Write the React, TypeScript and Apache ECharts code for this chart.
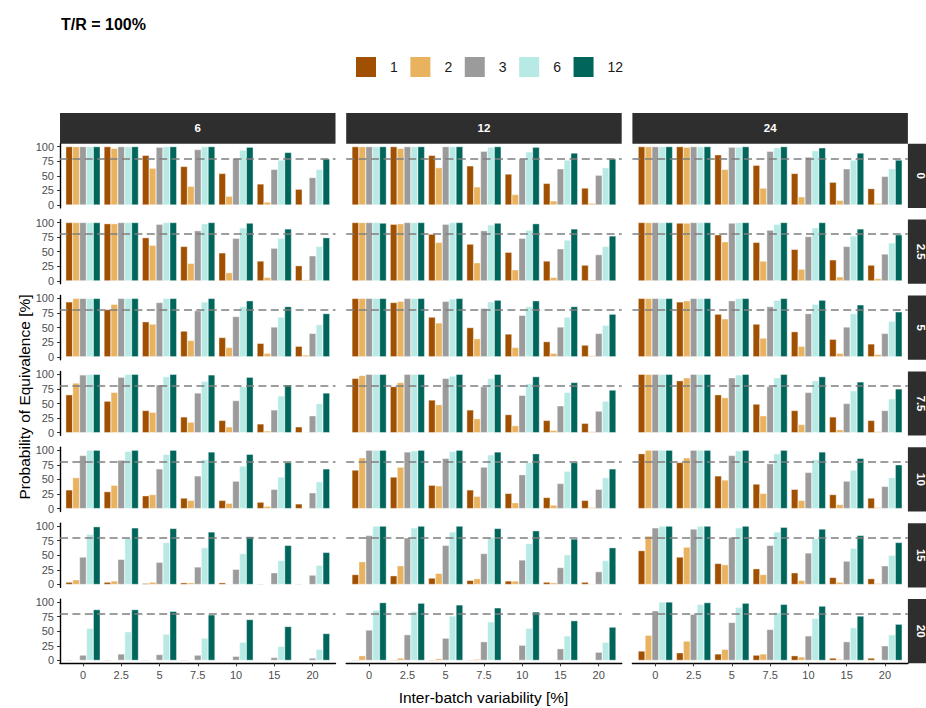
import React, { useEffect, useRef } from "react";
import * as echarts from "echarts";

// Axis / facet labels
const xLabels = ["0", "2.5", "5", "7.5", "10", "15", "20"];
const colLabels = ["6", "12", "24"];
const rowLabels = ["0", "2.5", "5", "7.5", "10", "15", "20"];
const seriesNames = ["1", "2", "3", "6", "12"];
const seriesColors = ["#A05000", "#E8B25F", "#9B9B9B", "#B7EAE4", "#00665C"];
const yTicks = [0, 25, 50, 75, 100];
const threshold = 80;

// Probability of equivalence [%]; each panel holds one row per series (1, 2, 3, 6, 12),
// with one value per inter-batch variability level.
const n6_w0 = [
  [100, 100, 85, 66, 54, 36, 27],
  [100, 97, 63, 32, 15, 5, 1],
  [100, 100, 99, 95, 80, 61, 47],
  [100, 100, 100, 100, 94, 77, 61],
  [100, 100, 100, 100, 99, 90, 79],
];
const n6_w2_5 = [
  [100, 98, 74, 59, 48, 34, 26],
  [100, 98, 61, 30, 14, 6, 2],
  [100, 100, 97, 86, 73, 56, 43],
  [100, 100, 100, 98, 91, 73, 59],
  [100, 100, 100, 100, 99, 89, 74],
];
const n6_w5 = [
  [94, 81, 60, 44, 33, 23, 18],
  [100, 90, 56, 28, 16, 6, 3],
  [100, 100, 93, 79, 69, 51, 40],
  [100, 100, 100, 94, 86, 68, 55],
  [100, 100, 100, 100, 96, 86, 74],
];
const n6_w7_5 = [
  [65, 54, 38, 27, 21, 15, 10],
  [85, 69, 35, 18, 10, 3, 1],
  [99, 95, 82, 68, 55, 39, 29],
  [100, 100, 96, 88, 79, 63, 50],
  [100, 100, 100, 99, 95, 82, 68],
];
const n6_w10 = [
  [32, 29, 22, 18, 14, 11, 8],
  [53, 40, 24, 14, 9, 4, 1],
  [91, 83, 68, 56, 47, 33, 27],
  [100, 98, 93, 84, 73, 54, 46],
  [100, 100, 100, 97, 93, 79, 68],
];
const n6_w15 = [
  [4, 4, 2, 3, 3, 1, 1],
  [8, 6, 4, 3, 1, 0, 0],
  [47, 43, 38, 30, 26, 20, 16],
  [86, 79, 72, 63, 53, 41, 33],
  [99, 97, 96, 90, 82, 67, 55],
];
const n6_w20 = [
  [1, 1, 1, 1, 0, 0, 0],
  [0, 0, 0, 0, 0, 0, 0],
  [9, 11, 10, 9, 7, 5, 4],
  [55, 49, 45, 38, 31, 24, 19],
  [87, 87, 84, 78, 70, 58, 46],
];

const n12_w0 = [
  [100, 100, 85, 67, 53, 37, 29],
  [100, 97, 64, 31, 18, 7, 3],
  [100, 100, 100, 92, 79, 62, 51],
  [100, 100, 100, 99, 91, 77, 64],
  [100, 100, 100, 100, 99, 89, 79],
];
const n12_w2_5 = [
  [100, 97, 80, 63, 49, 34, 27],
  [100, 98, 66, 31, 19, 6, 2],
  [100, 100, 97, 86, 73, 55, 45],
  [100, 100, 100, 96, 87, 70, 59],
  [99, 100, 100, 99, 98, 89, 77],
];
const n12_w5 = [
  [100, 93, 68, 50, 39, 26, 20],
  [100, 95, 58, 31, 16, 6, 2],
  [100, 100, 95, 83, 71, 51, 40],
  [100, 100, 99, 94, 86, 68, 54],
  [100, 100, 100, 97, 96, 86, 73],
];
const n12_w7_5 = [
  [93, 79, 56, 39, 31, 21, 16],
  [98, 86, 48, 24, 12, 4, 2],
  [100, 100, 93, 79, 64, 46, 37],
  [100, 100, 97, 93, 84, 69, 54],
  [100, 100, 100, 100, 96, 86, 73],
];
const n12_w10 = [
  [66, 54, 40, 32, 26, 19, 14],
  [87, 71, 39, 21, 10, 6, 2],
  [100, 97, 86, 71, 58, 43, 33],
  [100, 99, 98, 92, 79, 64, 53],
  [100, 100, 100, 97, 94, 79, 68],
];
const n12_w15 = [
  [17, 15, 11, 7, 6, 4, 4],
  [39, 32, 19, 10, 6, 3, 1],
  [84, 80, 67, 53, 42, 29, 22],
  [100, 97, 90, 81, 70, 51, 41],
  [100, 100, 100, 96, 92, 78, 63],
];
const n12_w20 = [
  [1, 1, 1, 1, 0, 0, 0],
  [8, 4, 3, 2, 1, 1, 0],
  [52, 44, 38, 32, 26, 20, 14],
  [86, 84, 76, 66, 55, 42, 31],
  [99, 98, 95, 90, 83, 68, 57],
];

const n24_w0 = [
  [100, 100, 86, 68, 54, 39, 28],
  [100, 99, 61, 29, 14, 8, 3],
  [100, 100, 99, 92, 82, 62, 49],
  [100, 100, 99, 98, 93, 77, 62],
  [100, 100, 100, 100, 98, 89, 77],
];
const n24_w2_5 = [
  [100, 99, 79, 66, 54, 36, 27],
  [100, 99, 67, 34, 20, 7, 4],
  [100, 100, 99, 87, 76, 59, 46],
  [100, 100, 100, 97, 91, 77, 65],
  [100, 100, 100, 100, 100, 89, 79],
];
const n24_w5 = [
  [100, 94, 73, 56, 43, 30, 22],
  [100, 96, 65, 32, 18, 6, 4],
  [100, 100, 96, 86, 74, 51, 40],
  [100, 100, 100, 97, 90, 74, 61],
  [100, 100, 100, 100, 97, 89, 77],
];
const n24_w7_5 = [
  [100, 89, 65, 49, 38, 27, 21],
  [100, 94, 60, 29, 14, 5, 2],
  [100, 100, 94, 79, 69, 50, 38],
  [100, 100, 99, 94, 89, 72, 58],
  [100, 100, 100, 100, 96, 87, 75],
];
const n24_w10 = [
  [94, 79, 56, 42, 33, 24, 18],
  [100, 87, 49, 26, 14, 7, 2],
  [100, 100, 91, 77, 62, 47, 38],
  [100, 100, 99, 94, 84, 66, 53],
  [100, 100, 100, 100, 97, 86, 75],
];
const n24_w15 = [
  [58, 47, 36, 27, 20, 12, 10],
  [83, 64, 34, 17, 7, 4, 2],
  [97, 95, 81, 67, 54, 40, 32],
  [100, 100, 97, 90, 79, 62, 50],
  [100, 100, 100, 98, 95, 84, 72],
];
const n24_w20 = [
  [16, 13, 11, 9, 8, 4, 4],
  [43, 33, 19, 11, 6, 2, 0],
  [85, 79, 65, 53, 42, 32, 25],
  [100, 96, 91, 82, 72, 56, 44],
  [100, 99, 98, 96, 93, 76, 62],
];

// panels[column][row]
const panels = [
  [n6_w0, n6_w2_5, n6_w5, n6_w7_5, n6_w10, n6_w15, n6_w20],
  [n12_w0, n12_w2_5, n12_w5, n12_w7_5, n12_w10, n12_w15, n12_w20],
  [n24_w0, n24_w2_5, n24_w5, n24_w7_5, n24_w10, n24_w15, n24_w20],
];

// Facet layout (pixels)
const FONT = '"Liberation Sans", Arial, Helvetica, sans-serif';
const PANEL_W = 275.5;
const PANEL_H = 64.2;
const COL_LEFT = [60, 346.2, 632.4];
const ROW_TOP0 = 143.7;
const ROW_STEP = 75.9;
const STRIP_TOP = 113;
const STRIP_H = 30.7;
const X_MIN = -0.6;
const X_MAX = 6.6;
const UNIT = PANEL_W / (X_MAX - X_MIN);
const BAR_W = (0.9 * UNIT) / seriesNames.length;

function buildOption() {
  const grid: any[] = [];
  const xAxis: any[] = [];
  const yAxis: any[] = [];
  const series: any[] = [];
  const graphic: any[] = [];
  const xIdx = xLabels.map((_, i) => i);

  colLabels.forEach((colLabel, c) => {
    rowLabels.forEach((rowLabel, r) => {
      const g = grid.length;
      const top = ROW_TOP0 + r * ROW_STEP;
      const isBottom = r === rowLabels.length - 1;
      const isLeft = c === 0;
      grid.push({ left: COL_LEFT[c], top, width: PANEL_W, height: PANEL_H });
      xAxis.push({
        type: "value",
        gridIndex: g,
        min: X_MIN,
        max: X_MAX,
        splitLine: { show: false },
        axisLine: { show: isBottom, onZero: false, lineStyle: { color: "#000", width: 1.4 } },
        axisTick: {
          show: isBottom,
          customValues: xIdx,
          length: 3,
          lineStyle: { color: "#333", width: 1 },
        },
        axisLabel: {
          show: isBottom,
          customValues: xIdx,
          formatter: (v: number) => xLabels[Math.round(v)] ?? "",
          fontSize: 11,
          color: "#4D4D4D",
          fontFamily: FONT,
          margin: 6,
        },
      });
      yAxis.push({
        type: "value",
        gridIndex: g,
        min: -5,
        max: 105,
        splitLine: { show: false },
        axisLine: { show: isLeft, onZero: false, lineStyle: { color: "#000", width: 1.4 } },
        axisTick: {
          show: isLeft,
          customValues: yTicks,
          length: 3,
          lineStyle: { color: "#333", width: 1 },
        },
        axisLabel: {
          show: isLeft,
          customValues: yTicks,
          fontSize: 11,
          color: "#4D4D4D",
          fontFamily: FONT,
          margin: 6,
        },
      });
      const panel = panels[c][r];
      seriesNames.forEach((name, s) => {
        const item: any = {
          type: "bar",
          name,
          xAxisIndex: g,
          yAxisIndex: g,
          barWidth: BAR_W,
          barGap: "0%",
          itemStyle: { color: seriesColors[s], borderColor: "#fff", borderWidth: 0.4 },
          data: panel[s].map((v, k) => [k, v]),
        };
        if (s === 0) {
          item.markLine = {
            silent: true,
            symbol: "none",
            label: { show: false },
            lineStyle: { color: "#7F7F7F", width: 1.7, type: [8, 4.4] },
            data: [{ yAxis: threshold }],
          };
        }
        series.push(item);
      });

      // Row strip on the right-hand side
      if (c === colLabels.length - 1) {
        const sx = COL_LEFT[c] + PANEL_W;
        graphic.push({
          type: "rect",
          shape: { x: sx, y: top, width: 30, height: PANEL_H },
          style: { fill: "#2E2E2E" },
          silent: true,
        });
        graphic.push({
          type: "text",
          x: sx + 13,
          y: top + PANEL_H / 2,
          rotation: -Math.PI / 2,
          style: {
            text: rowLabel,
            fill: "#fff",
            fontSize: 11.5,
            fontWeight: "bold",
            fontFamily: FONT,
            align: "center",
            verticalAlign: "middle",
          },
          silent: true,
        });
      }
    });

    // Column strip on top
    graphic.push({
      type: "rect",
      shape: { x: COL_LEFT[c], y: STRIP_TOP, width: PANEL_W, height: STRIP_H },
      style: { fill: "#2E2E2E" },
      silent: true,
    });
    graphic.push({
      type: "text",
      x: COL_LEFT[c] + PANEL_W / 2,
      y: STRIP_TOP + STRIP_H / 2,
      style: {
        text: colLabel,
        fill: "#fff",
        fontSize: 11.5,
        fontWeight: "bold",
        fontFamily: FONT,
        align: "center",
        verticalAlign: "middle",
      },
      silent: true,
    });
  });

  // Axis titles
  graphic.push({
    type: "text",
    x: 24,
    y: 397,
    rotation: Math.PI / 2,
    style: {
      text: "Probability of Equivalence [%]",
      fill: "#000",
      fontSize: 15.5,
      fontFamily: FONT,
      align: "center",
      verticalAlign: "middle",
    },
    silent: true,
  });
  graphic.push({
    type: "text",
    x: 483.5,
    y: 697.5,
    style: {
      text: "Inter-batch variability [%]",
      fill: "#000",
      fontSize: 15.5,
      fontFamily: FONT,
      align: "center",
      verticalAlign: "middle",
    },
    silent: true,
  });

  return {
    animation: false,
    backgroundColor: "#fff",
    textStyle: { fontFamily: FONT },
    title: {
      text: "T/R = 100%",
      left: 61,
      top: 16,
      padding: 0,
      textStyle: { fontSize: 16, fontWeight: "bold", color: "#000", fontFamily: FONT },
    },
    legend: {
      data: seriesNames,
      left: 356,
      top: 57,
      padding: 0,
      icon: "rect",
      itemWidth: 20,
      itemHeight: 20,
      itemGap: 12.6,
      itemStyle: { borderWidth: 0 },
      selectedMode: false,
      textStyle: { fontSize: 14, color: "#1A1A1A", fontFamily: FONT, padding: [0, 0, 0, 9] },
    },
    grid,
    xAxis,
    yAxis,
    series,
    graphic,
  };
}

export default function App() {
  const ref = useRef<HTMLDivElement>(null);
  useEffect(() => {
    document.body.style.margin = "0";
    if (!ref.current) return;
    const chart = echarts.init(ref.current, undefined, { renderer: "svg" });
    chart.setOption(buildOption() as any);
    return () => chart.dispose();
  }, []);
  return <div ref={ref} style={{ width: 926, height: 708 }} />;
}
